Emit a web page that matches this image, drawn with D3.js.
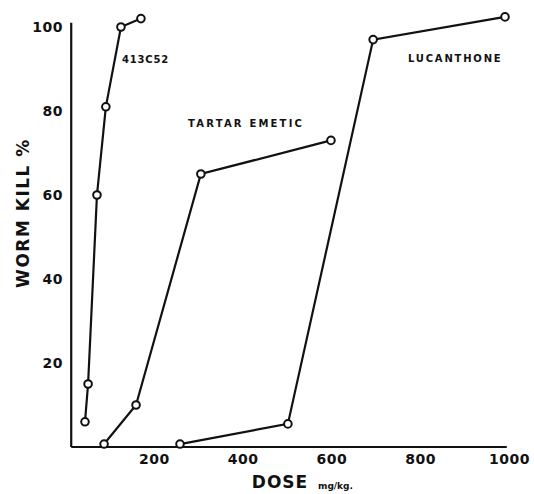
<!DOCTYPE html>
<html>
<head>
<meta charset="utf-8">
<script src="https://cdn.jsdelivr.net/npm/d3@7"></script>
<style>
  body { margin: 0; background: #fff; }
  svg text { font-family: "DejaVu Sans", sans-serif; font-weight: bold; fill: #111; }
</style>
</head>
<body>
<div id="chart"></div>
<script>
// Dose (mg/kg) vs worm kill (%)
const drug413 = [[45, 6], [52, 15], [72, 60], [92, 81], [126, 100], [171, 102]];
const tartar = [[88, 0.7], [160, 10], [306, 65], [599, 73]];
const lucanthone = [[259, 0.7], [502, 5.5], [694, 97], [991, 102.4]];

const xTicks = [200, 400, 600, 800, 1000];
const yTicks = [20, 40, 60, 80, 100];

const width = 534;
const height = 494;

const svg = d3.select("#chart")
  .append("svg")
  .attr("width", width)
  .attr("height", height);

const x = d3.scaleLinear().domain([0, 1000]).range([65, 509]);
const y = d3.scaleLinear().domain([0, 100]).range([447, 27]);

// Axis lines (hand drawn look: y axis sits a bit right of zero)
svg.append("line")
  .attr("x1", x(14)).attr("x2", x(14))
  .attr("y1", y(101)).attr("y2", y(0))
  .attr("stroke", "#111").attr("stroke-width", 2.2);
svg.append("line")
  .attr("x1", x(14)).attr("x2", x(995))
  .attr("y1", y(0)).attr("y2", y(0))
  .attr("stroke", "#111").attr("stroke-width", 2.2);

// Tick labels through the axes, no tick marks
const xAxis = svg.append("g")
  .attr("transform", `translate(0, ${y(0)})`)
  .call(d3.axisBottom(x).tickValues(xTicks).tickFormat(d3.format("d")).tickSize(0).tickPadding(7));
xAxis.select(".domain").remove();
xAxis.selectAll("text").style("font-size", "14px").style("letter-spacing", "0.5px").attr("font-family", null);

const yAxis = svg.append("g")
  .attr("transform", `translate(${x(0) - 2}, 0)`)
  .call(d3.axisLeft(y).tickValues(yTicks).tickSize(0).tickPadding(0));
yAxis.select(".domain").remove();
yAxis.selectAll("text").style("font-size", "14px").style("letter-spacing", "0.5px").attr("font-family", null);

// Axis titles
svg.append("text")
  .attr("x", 280)
  .attr("y", 488)
  .attr("text-anchor", "middle")
  .style("font-size", "17px")
  .style("letter-spacing", "1px")
  .text("DOSE");
svg.append("text")
  .attr("x", 318)
  .attr("y", 489)
  .style("font-size", "9px")
  .text("mg/kg.");

svg.append("text")
  .attr("transform", "translate(29, 213) rotate(-90)")
  .attr("text-anchor", "middle")
  .style("font-size", "17px")
  .style("letter-spacing", "1.5px")
  .text("WORM KILL %");

// Series
const line = d3.line()
  .x(d => x(d[0]))
  .y(d => y(d[1]));

const series = [
  { name: "413C52", data: drug413, lx: 122, ly: 63, sp: 0.8 },
  { name: "TARTAR EMETIC", data: tartar, lx: 188, ly: 127, sp: 2.2 },
  { name: "LUCANTHONE", data: lucanthone, lx: 408, ly: 62, sp: 1.8 }
];

series.forEach(s => {
  svg.append("path")
    .datum(s.data)
    .attr("fill", "none")
    .attr("stroke", "#111")
    .attr("stroke-width", 2.2)
    .attr("d", line);

  svg.selectAll(null)
    .data(s.data)
    .enter()
    .append("circle")
      .attr("cx", d => x(d[0]))
      .attr("cy", d => y(d[1]))
      .attr("r", 3.8)
      .attr("fill", "#fff")
      .attr("stroke", "#111")
      .attr("stroke-width", 2);

  svg.append("text")
    .attr("x", s.lx)
    .attr("y", s.ly)
    .style("font-size", "10px")
    .style("letter-spacing", s.sp + "px")
    .text(s.name);
});
</script>
</body>
</html>
